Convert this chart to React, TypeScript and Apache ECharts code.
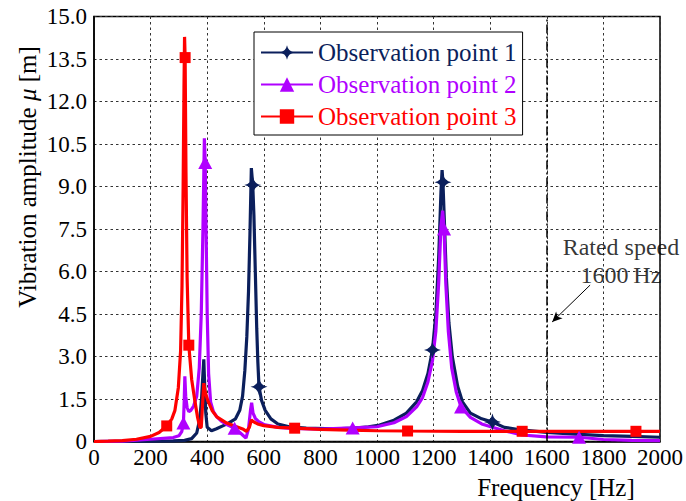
import React, { useEffect, useRef } from "react";
import * as echarts from "echarts";

const FONT = "Liberation Serif";
const NAVY = "#0b1f5c";
const PURPLE = "#b000ff";
const RED = "#ff0000";

const seriesNames = ["Observation point 1", "Observation point 2", "Observation point 3"];

const xTicks = [0, 200, 400, 600, 800, 1000, 1200, 1400, 1600, 1800, 2000];
const yTickLabels = ["0", "1.5", "3.0", "4.5", "6.0", "7.5", "9.0", "10.5", "12.0", "13.5", "15.0"];

// Observation point 1 (navy)
const f1 = [0, 100, 200, 280, 320, 345, 363, 374, 380, 385, 388, 391, 395, 400, 415, 433, 455, 475, 500, 515, 525, 533, 540, 546, 551, 556, 565, 570, 575, 579, 592, 605, 625, 650, 690, 750, 850, 920, 970, 1009, 1060, 1104, 1140, 1161, 1180, 1208, 1218, 1226, 1230, 1238, 1245, 1254, 1266, 1285, 1302, 1330, 1370, 1450, 1500, 1600, 1700, 1800, 1900, 2000];
const v1 = [0, 0.005, 0.01, 0.02, 0.04, 0.1, 0.3, 0.8, 1.5, 2.4, 2.9, 2.0, 1.0, 0.5, 0.38, 0.45, 0.55, 0.65, 0.8, 1.1, 1.6, 2.5, 3.7, 5.3, 7.3, 9.65, 8.0, 6.0, 4.0, 2.8, 1.45, 1.1, 0.8, 0.62, 0.52, 0.47, 0.45, 0.47, 0.52, 0.58, 0.75, 1.0, 1.4, 1.8, 2.4, 4.5, 6.5, 8.8, 9.58, 7.8, 5.8, 4.2, 3.0, 1.95, 1.4, 1.0, 0.8, 0.5, 0.42, 0.32, 0.26, 0.21, 0.18, 0.15];
const m1f = [561, 583, 1196, 1233, 1408];
const m1v = [9.05, 1.93, 3.23, 9.15, 0.69];

// Observation point 2 (purple)
const f2 = [0, 100, 200, 280, 300, 310, 319, 321, 324, 329, 335, 342, 352, 363, 372, 379, 385, 390, 396, 400, 405, 412, 422, 434, 450, 469, 515, 526, 537, 546, 553, 557, 562, 570, 582, 600, 650, 700, 800, 1000, 1060, 1104, 1140, 1161, 1180, 1196, 1208, 1218, 1226, 1232, 1243, 1252, 1264, 1280, 1330, 1370, 1408, 1450, 1513, 1598, 1800, 1900, 2000];
const v2 = [0, 0.01, 0.08, 0.14, 0.2, 0.35, 1.5, 2.3, 1.6, 1.2, 1.05, 1.1, 1.25, 1.6, 2.6, 4.5, 7.5, 10.7, 7.5, 4.5, 2.4, 1.4, 1.05, 0.87, 0.72, 0.6, 0.32, 0.22, 0.12, 0.45, 1.1, 1.37, 1.0, 0.82, 0.7, 0.6, 0.5, 0.46, 0.44, 0.52, 0.66, 0.88, 1.22, 1.55, 2.1, 2.85, 3.9, 5.6, 7.6, 8.15, 5.6, 3.9, 2.6, 1.75, 0.85, 0.62, 0.5, 0.38, 0.23, 0.16, 0.07, 0.04, 0.03];
const m2f = [316, 393, 497, 914, 1237, 1297, 1714];
const m2v = [0.65, 9.85, 0.47, 0.48, 7.5, 1.22, 0.15];

// Observation point 3 (red)
const f3 = [0, 50, 100, 150, 200, 230, 275, 286, 298, 306, 311, 315, 318, 320, 325, 329, 345, 356, 366, 374, 379, 383, 388, 393, 402, 418, 434, 469, 504, 528, 539, 549, 556, 563, 578, 600, 650, 800, 900, 1000, 1300, 1700, 2000];
const v3 = [0, 0.01, 0.03, 0.08, 0.18, 0.32, 0.8, 1.1, 1.9, 3.2, 5.5, 9.0, 12.5, 14.28, 9.5, 5.8, 2.2, 1.46, 0.85, 0.5, 0.5, 1.2, 2.06, 1.75, 1.45, 1.08, 0.87, 0.65, 0.52, 0.43, 0.36, 0.5, 0.76, 0.7, 0.62, 0.56, 0.5, 0.43, 0.4, 0.38, 0.36, 0.36, 0.36];
const m3f = [257, 322, 335, 709, 1108, 1513, 1915];
const m3v = [0.55, 13.55, 3.4, 0.47, 0.37, 0.36, 0.36];

// Annotation
const ratedSpeed = 1600;
const annotF = [1862, 1862];
const annotV = [6.87, 5.88];
const annotText = ["Rated speed", "1600\u2009Hz"];
const arrowFrom = [1753, 5.52];
const arrowTo = [1619, 4.22];

const STAR = "path://M0,-10Q1.6,-1.6 10,0Q1.6,1.6 0,10Q-1.6,1.6 -10,0Q-1.6,-1.6 0,-10Z";

function build(f: number[], v: number[], mf: number[], mv: number[], sym: string, size: any) {
  const pts: any[] = f.map((x, i) => ({ value: [x, v[i]], symbol: "none" }));
  mf.forEach((x, i) => pts.push({ value: [x, mv[i]], symbol: sym, symbolSize: size }));
  pts.sort((a, b) => a.value[0] - b.value[0]);
  return pts;
}

export default function App() {
  const ref = useRef<HTMLDivElement>(null);
  useEffect(() => {
    document.body.style.margin = "0";
    const chart = echarts.init(ref.current!, null, { renderer: "svg" });
    const lineSeries = (name: string, color: string, data: any[], sym: string, size: any) => ({
      name,
      type: "line",
      data,
      symbol: sym,
      symbolSize: size,
      showSymbol: true,
      showAllSymbol: true,
      smooth: false,
      lineStyle: { color, width: 3.2 },
      itemStyle: { color },
      emphasis: { disabled: true },
      silent: true,
    });
    const option: any = {
      animation: false,
      backgroundColor: "#fff",
      textStyle: { fontFamily: FONT },
      grid: {
        left: 94, right: 24, top: 16.5, bottom: 59.5,
        show: true, borderColor: "#000", borderWidth: 1.5, backgroundColor: "transparent",
      },
      xAxis: {
        type: "value", min: 0, max: 2000, interval: 200,
        axisLine: { show: true, lineStyle: { color: "#000", width: 1.5 } },
        axisTick: { show: false },
        axisLabel: {
          color: "#000", fontSize: 23, fontFamily: FONT, margin: 4,
          formatter: (v: number) => String(xTicks[Math.round(v / 200)]),
        },
        splitLine: { show: true, lineStyle: { color: "#333", type: [2.5, 3], width: 1 } },
      },
      yAxis: {
        type: "value", min: 0, max: 15, interval: 1.5,
        axisLine: { show: true, lineStyle: { color: "#000", width: 1.5 } },
        axisTick: { show: false },
        axisLabel: {
          color: "#000", fontSize: 23, fontFamily: FONT, margin: 7,
          formatter: (v: number) => yTickLabels[Math.round(v / 1.5)],
        },
        splitLine: { show: true, lineStyle: { color: "#333", type: [2.5, 3], width: 1 } },
      },
      legend: {
        orient: "vertical",
        left: 254, top: 32,
        padding: [8, 6, 6, 6],
        itemWidth: 52, itemHeight: 18, itemGap: 7,
        backgroundColor: "#fff",
        borderColor: "#000", borderWidth: 1,
        textStyle: { fontFamily: FONT, fontSize: 25, lineHeight: 20 },
        data: [
          { name: seriesNames[0], textStyle: { color: NAVY } },
          { name: seriesNames[1], textStyle: { color: PURPLE } },
          { name: seriesNames[2], textStyle: { color: RED } },
        ],
        selectedMode: false,
      },
      graphic: [
        {
          type: "text", x: 27, y: 177, rotation: Math.PI / 2,
          style: {
            text: "{n|Vibration amplitude }{i|\u03bc}{n| [m]}",
            align: "center", verticalAlign: "middle", fill: "#000",
            rich: {
              n: { fontFamily: FONT, fontSize: 25, fill: "#000" },
              i: { fontFamily: FONT, fontSize: 25, fontStyle: "italic", fill: "#000" },
            },
          },
        },
        {
          type: "text", x: 556, y: 487,
          style: {
            text: "Frequency [Hz]", fontFamily: FONT, fontSize: 25, fill: "#000",
            align: "center", verticalAlign: "middle",
          },
        },
      ],
      series: [
        lineSeries(seriesNames[0], NAVY, build(f1, v1, m1f, m1v, STAR, 17), STAR, 17),
        lineSeries(seriesNames[1], PURPLE, build(f2, v2, m2f, m2v, "triangle", [14, 13]), "triangle", [14, 13]),
        lineSeries(seriesNames[2], RED, build(f3, v3, m3f, m3v, "rect", 11), "rect", 11),
        {
          name: "annotation",
          type: "scatter",
          silent: true,
          symbol: "circle",
          symbolSize: 1,
          itemStyle: { color: "rgba(0,0,0,0)" },
          data: annotF.map((x, i) => [x, annotV[i]]),
          label: {
            show: true, position: "inside", color: "#000", fontFamily: FONT, fontSize: 24,
            formatter: (p: any) => annotText[p.dataIndex],
          },
          markLine: {
            silent: true,
            animation: false,
            symbol: ["none", "none"],
            label: { show: false },
            emphasis: { disabled: true },
            data: [
              { xAxis: ratedSpeed, lineStyle: { color: "#000", width: 1.5, type: [9, 3, 2, 3] } },
              [
                { coord: arrowFrom, symbol: "none", lineStyle: { color: "#000", width: 1, type: "solid" } },
                { coord: arrowTo, symbol: "arrow", symbolSize: [7, 10] },
              ],
            ],
          },
        },
      ],
    };
    chart.setOption(option);
    return () => chart.dispose();
  }, []);
  return <div ref={ref} style={{ width: 686, height: 501 }} />;
}
